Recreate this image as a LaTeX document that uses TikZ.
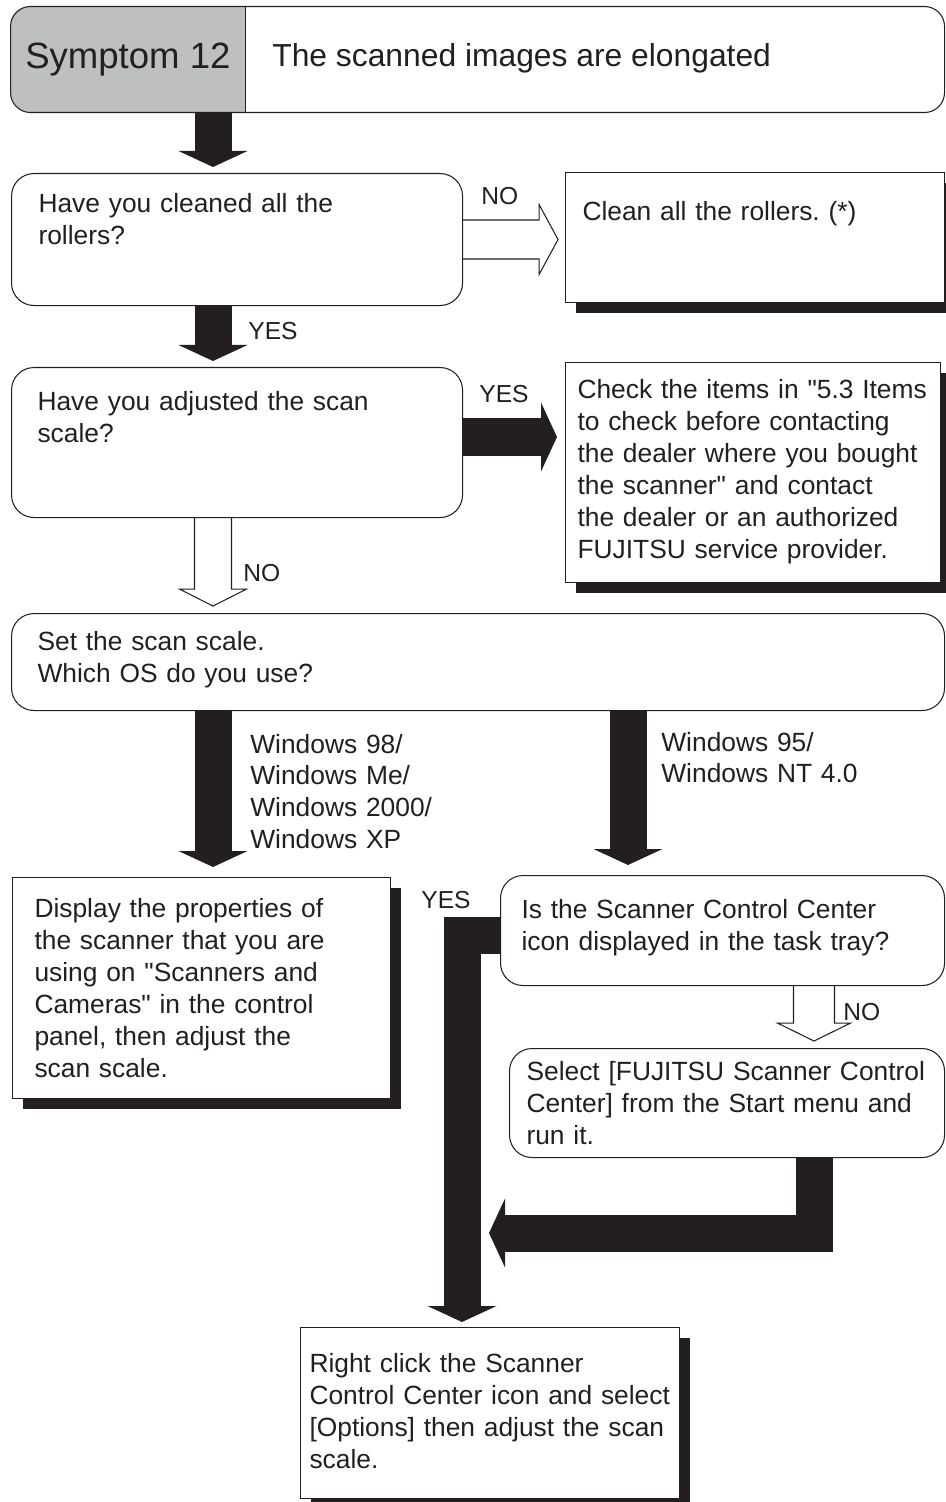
\documentclass[tikz,border=0pt]{standalone}
\usepackage{fontspec}
\setmainfont{Liberation Sans}
\usepackage{xcolor}
\usetikzlibrary{arrows.meta,calc,shadows}
\definecolor{ink}{RGB}{35,31,32}
\definecolor{symgray}{RGB}{190,191,193}
\newcommand\symptomfont{\fontsize{20.8pt}{25pt}\selectfont}
\newcommand\headlinefont{\fontsize{18.1pt}{22pt}\selectfont}
\frenchspacing

\begin{document}
\begin{tikzpicture}[
    x=0.2mm, y=-0.2mm,
    font=\fontsize{15pt}{18.2pt}\selectfont, text=ink,
    box/.style={draw=ink, line width=0.6pt, fill=white, anchor=north west, inner ysep=0pt, align=left},
    qbox/.style={box, rounded corners=4.5mm},
    sbox/.style={box, drop shadow={shadow xshift=2mm, shadow yshift=-2mm, opacity=1, fill=ink}},
    lbl/.style={inner sep=0pt, anchor=base west, font=\fontsize{14pt}{16.8pt}\selectfont},
    wlbl/.style={inner sep=0pt, anchor=base west, text width=40mm, align=left},
    fat/.style={draw=ink, line width=7.4mm, -{Triangle[width=13.8mm, length=3.2mm, line width=0pt]}},
    hollow/.style={draw=ink, line width=0.6pt}
]
\useasboundingbox (0,0) rectangle (945,1502);

\begin{scope}
  \clip[rounded corners=4mm] (10,6) rectangle (944,112);
  \node[fill=symgray, anchor=north west, inner sep=0pt, minimum width=47mm, minimum height=21.2mm, font=\symptomfont] (symno) at (10,6) {Symptom 12};
\end{scope}
\node[draw=ink, line width=0.6pt, rounded corners=4mm, anchor=north west, inner sep=0pt, minimum width=186.8mm, minimum height=21.2mm] (symptom) at (10,6) {};
\draw[ink, line width=0.6pt] (symno.north east) -- (symno.south east);
\node[inner sep=0pt, anchor=base west, font=\headlinefont] (symtext) at (272,67) {The scanned images are elongated};

\node[qbox, inner xsep=5.4mm, text width=79.4mm, text height=7.8mm, text depth=18.6mm] (q1) at (11,173) {Have you cleaned all the\\rollers?};
\node[sbox, inner xsep=3.4mm, text width=69mm, text height=9.6mm, text depth=16.4mm] (clean) at (565,172) {Clean all the rollers. (*)};
\node[qbox, inner xsep=5.2mm, text width=79.8mm, text height=8.6mm, text depth=21.4mm] (q2) at (11,367) {Have you adjusted the scan\\scale?};
\node[sbox, inner xsep=2.4mm, text width=70.2mm, text height=7.2mm, text depth=36.8mm] (dealer) at (565,362) {Check the items in \textquotedbl5.3 Items\\to check before contacting\\the dealer where you bought\\the scanner\textquotedbl{} and contact\\the dealer or an authorized\\FUJITSU service provider.};
\node[qbox, inner xsep=5.2mm, text width=176.2mm, text height=7.4mm, text depth=12mm] (os) at (11,613) {Set the scan scale.\\Which OS do you use?};
\node[sbox, inner xsep=4.4mm, text width=66.8mm, text height=8mm, text depth=36.2mm] (props) at (12,877) {Display the properties of\\the scanner that you are\\using on \textquotedbl Scanners and\\Cameras\textquotedbl{} in the control\\panel, then adjust the\\scan scale.};
\node[qbox, inner xsep=4.2mm, text width=80.4mm, text height=8.6mm, text depth=13.4mm] (tray) at (500,875) {Is the Scanner Control Center\\icon displayed in the task tray?};
\node[qbox, inner xsep=3.4mm, text width=80.2mm, text height=6.4mm, text depth=15.4mm] (start) at (509,1048) {Select [FUJITSU Scanner Control\\Center] from the Start menu and\\run it.};
\node[sbox, inner xsep=1.8mm, text width=72.2mm, text height=9mm, text depth=25.2mm] (options) at (300,1327) {Right click the Scanner\\Control Center icon and select\\{}[Options] then adjust the scan\\scale.};

\node[lbl] (no1) at (481,205) {NO};
\node[lbl] (yes1) at (248,340) {YES};
\node[lbl] (yes2) at (479,402) {YES};
\node[lbl] (no2) at (243,581) {NO};
\node[wlbl] (winnew) at (250,753) {Windows 98/\\Windows Me/\\Windows 2000/\\Windows XP};
\node[wlbl] (winold) at (661,751) {Windows 95/\\Windows NT 4.0};
\node[lbl] (yes3) at (421,908) {YES};
\node[lbl] (no3) at (843,1020) {NO};

\coordinate (spine) at (213,0);
\coordinate (mspine) at (628,0);
\coordinate (rspine) at (814,0);
\coordinate (yesrow) at (0,437);
\coordinate (yesturn) at (462,935);
\coordinate (selturn) at (814,1233);
\coordinate (merge) at (489,1233);

\draw[fat, shorten >=1.2mm] (symptom.south -| spine) -- (q1.north -| spine);
\draw[fat, shorten >=1.2mm] (q1.south -| spine) -- (q2.north -| spine);
\draw[fat, shorten >=1.6mm] (q2.east |- yesrow) -- (dealer.west |- yesrow);
\draw[fat, shorten >=2mm] (os.south -| spine) -- (props.north -| spine);
\draw[fat, shorten >=2mm] (os.south -| mspine) -- (tray.north -| mspine);
\draw[fat, shorten >=1mm] (tray.west |- yesturn) -- (yesturn) -- (yesturn |- options.north);
\draw[fat] (start.south -| selturn) -- (selturn) -- (merge);

\draw[hollow] ($(q1.east)+(0,-19.5)$) -- ++(76,0) -- ++(0,-15.5) -- ++(19,35) -- ++(-19,35) -- ++(0,-15.5) -- ++(-76,0);
\draw[hollow] ($(q2.south -| spine)+(-18.5,0)$) -- ++(0,71) -- ++(-15,0) -- ++(33.5,17) -- ++(33.5,-17) -- ++(-15,0) -- ++(0,-71);
\draw[hollow] ($(tray.south -| rspine)+(-20.5,0)$) -- ++(0,37) -- ++(-16,0) -- ++(36.5,18) -- ++(36.5,-18) -- ++(-16,0) -- ++(0,-37);
\end{tikzpicture}
\end{document}
